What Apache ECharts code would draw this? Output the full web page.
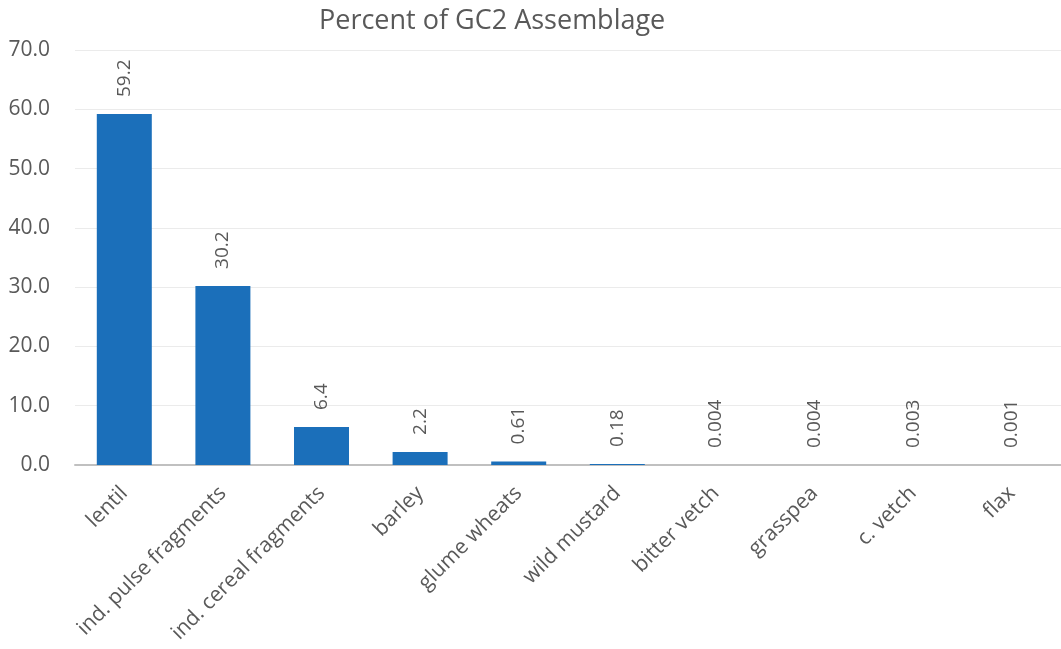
<!DOCTYPE html>
<html>
<head>
<meta charset="utf-8">
<script src="https://cdn.jsdelivr.net/npm/echarts@6/dist/echarts.min.js"></script>
<style>
  html, body { margin: 0; padding: 0; background: #fff; }
  #chart { width: 1061px; height: 649px; }
</style>
</head>
<body>
<div id="chart"></div>
<script>
var categories = ['lentil', 'ind. pulse fragments', 'ind. cereal fragments', 'barley', 'glume wheats',
    'wild mustard', 'bitter vetch', 'grasspea', 'c. vetch', 'flax'];
var values = [59.2, 30.2, 6.4, 2.2, 0.61, 0.18, 0.004, 0.004, 0.003, 0.001];
var labels = ['59.2', '30.2', '6.4', '2.2', '0.61', '0.18', '0.004', '0.004', '0.003', '0.001'];

var myChart = echarts.init(document.getElementById('chart'));
var fontFam = '"Open Sans", "Noto Sans", sans-serif';

var option = {
    animation: false,
    title: {
        text: 'Percent of GC2 Assemblage',
        left: 314,
        top: 3,
        textStyle: {
            fontFamily: fontFam,
            fontWeight: 'normal',
            fontSize: 27,
            color: '#595959'
        }
    },
    grid: {
        left: 75,
        right: 0,
        top: 50,
        bottom: 184,
        containLabel: false
    },
    xAxis: {
        type: 'category',
        data: categories,
        axisTick: { show: false },
        axisLine: { lineStyle: { color: '#c0c0c0', width: 2 } },
        axisLabel: {
            rotate: 45,
            interval: 0,
            margin: 25,
            fontFamily: fontFam,
            fontSize: 21,
            color: '#595959'
        }
    },
    yAxis: {
        type: 'value',
        min: 0,
        max: 70,
        interval: 10,
        axisLine: { show: false },
        axisTick: { show: false },
        splitLine: { lineStyle: { color: '#ebebeb', width: 1 } },
        axisLabel: {
            formatter: function (v) { return v.toFixed(1); },
            margin: 25,
            fontFamily: fontFam,
            fontSize: 21,
            color: '#595959'
        }
    },
    series: [
        {
            type: 'bar',
            data: values,
            barWidth: 55,
            itemStyle: { color: '#1b6fba' },
            label: {
                show: true,
                position: 'top',
                rotate: 90,
                align: 'left',
                verticalAlign: 'middle',
                distance: 17,
                fontFamily: fontFam,
                fontSize: 19,
                color: '#595959',
                formatter: function (p) { return labels[p.dataIndex]; }
            }
        }
    ]
};
myChart.setOption(option);
</script>
</body>
</html>
